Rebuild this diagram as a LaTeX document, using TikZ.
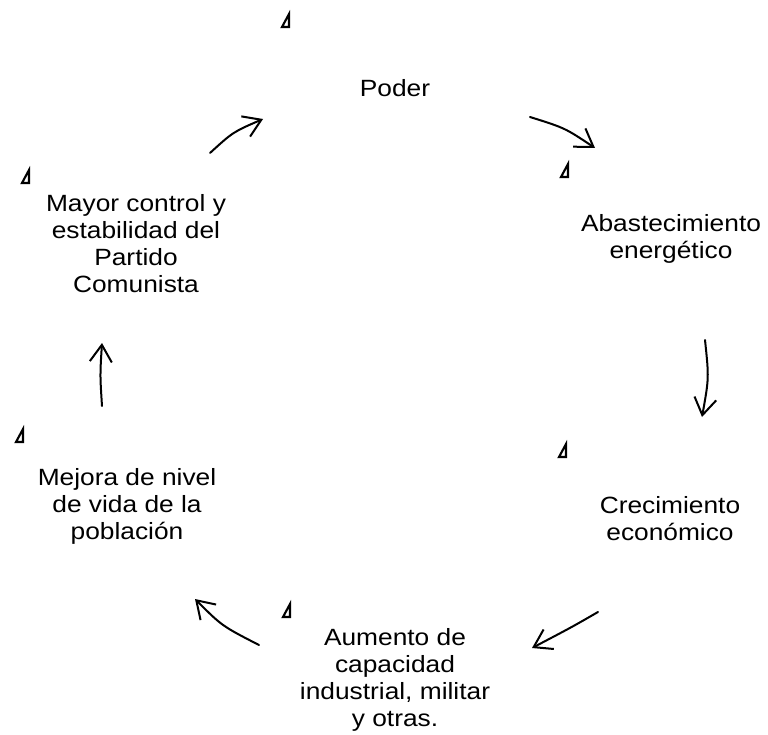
\documentclass[tikz,border=0pt]{standalone}
\usepackage{fontspec}
\setmainfont{Liberation Sans}[FakeStretch=1.12]
\usetikzlibrary{arrows.meta}
\tikzset{
  lbl/.style={inner sep=0pt, anchor=base, font=\fontsize{23.5}{27}\selectfont},
  cyc/.style={line width=2pt, line cap=round, -{Straight Barb[length=17pt,width=22pt,line width=2pt]}},
  tri/.style={line width=2.1pt, line join=miter}
}
\newcommand{\stk}[1]{\setlength{\tabcolsep}{0pt}\begin{tabular}[t]{c}#1\end{tabular}}
\begin{document}
\begin{tikzpicture}[x=1pt,y=-1pt]
\useasboundingbox (0,0) rectangle (768,735);
% texts
\node[lbl] (poder) at (395,97) {\stk{Poder}};
\node[lbl] (abast) at (671,232) {\stk{Abastecimiento\\energético}};
\node[lbl] (crec) at (670,513) {\stk{Crecimiento\\económico}};
\node[lbl] (aum) at (395,645) {\stk{Aumento de\\capacidad\\industrial, militar\\y otras.}};
\node[lbl] (mej) at (127,485) {\stk{Mejora de nivel\\de vida de la\\población}};
\node[lbl] (may) at (136,212) {\stk{Mayor control y\\estabilidad del\\Partido\\Comunista}};
% small triangles
\foreach \x/\y in {289/27, 568/177, 29/183, 566/457, 23/442, 290/617}{
  \draw[tri] (\x-7,\y) -- (\x,\y-13) -- (\x,\y) -- cycle;
}
% arrow end points
\coordinate (a1s) at (530,117); \coordinate (a1e) at (595,148);
\coordinate (a2s) at (705,340); \coordinate (a2e) at (702,417);
\coordinate (a3s) at (598,612); \coordinate (a3e) at (532,648);
\coordinate (a4s) at (259,645); \coordinate (a4e) at (195,599);
\coordinate (a5s) at (102,406); \coordinate (a5e) at (102,343);
\coordinate (a6s) at (210,153); \coordinate (a6e) at (263,119);
% arrows
\draw[cyc] (a1s) .. controls (565,128) .. (a1e);
\draw[cyc] (a2s) .. controls (709,378) .. (a2e);
\draw[cyc] (a3s) .. controls (572,627) .. (a3e);
\draw[cyc] (a4s) .. controls (222,626) .. (a4e);
\draw[cyc] (a5s) .. controls (100,375) .. (a5e);
\draw[cyc] (a6s) .. controls (233,132) .. (a6e);
\end{tikzpicture}
\end{document}
